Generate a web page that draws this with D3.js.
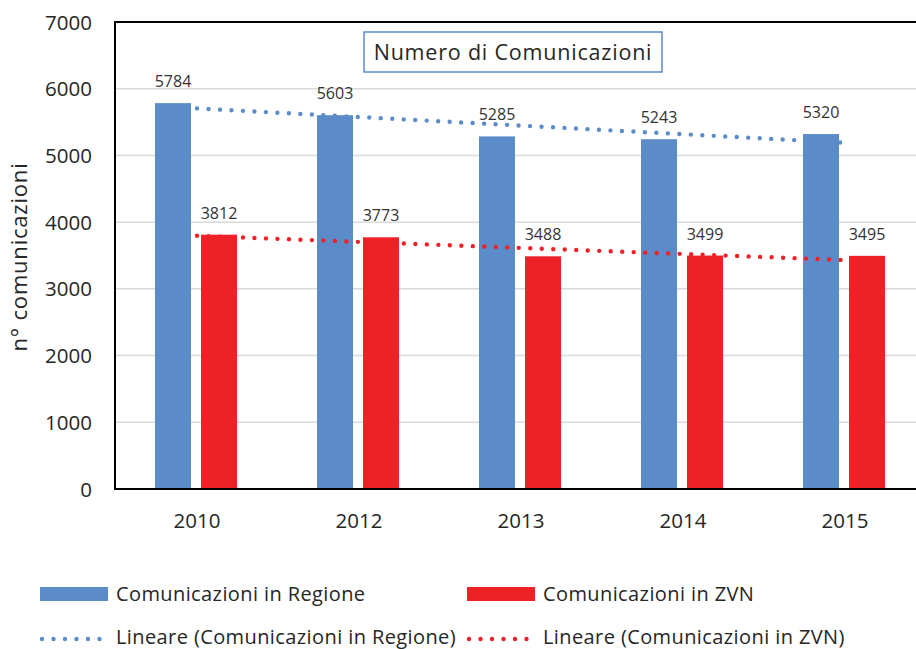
<!DOCTYPE html>
<html><head><meta charset="utf-8">
<script src="https://cdn.jsdelivr.net/npm/d3@7"></script>
<style>body{margin:0;background:#fff}svg{display:block}text{font-family:"Open Sans",sans-serif}</style>
</head><body>
<script>
const categories = ["2010","2012","2013","2014","2015"];
const regione = [5784,5603,5285,5243,5320];
const zvn = [3812,3773,3488,3499,3495];
const yTicks = [0,1000,2000,3000,4000,5000,6000,7000];
const seriesNames = ["Comunicazioni in Regione","Comunicazioni in ZVN"];
const trendNames = ["Lineare (Comunicazioni in Regione)","Lineare (Comunicazioni in ZVN)"];
const colors = ["#5b8bc8","#ee2126"];
const title = "Numero di Comunicazioni";
const yTitle = "n° comunicazioni";

const W=916,H=649;
const svg=d3.select("body").append("svg").attr("width",W).attr("height",H);
const L=115,R=926,T=22,B=489;
const x=d3.scaleBand().domain(categories).range([L+1,R]).paddingInner(0).paddingOuter(0);
const y=d3.scaleLinear().domain([0,7000]).range([B,T]);
const xs=d3.scaleBand().domain([0,1]).range([39,121]).paddingInner(10/46).paddingOuter(0);

// gridlines
svg.append("g").selectAll("line").data(yTicks.filter(d=>d>0&&d<7000)).join("line")
 .attr("x1",L).attr("x2",W).attr("y1",d=>y(d)).attr("y2",d=>y(d))
 .attr("stroke","#d9d9d9").attr("stroke-width",1.5);

// bars
const series=[regione,zvn];
series.forEach((vals,si)=>{
  svg.append("g").selectAll("rect").data(vals).join("rect")
   .attr("x",(d,i)=>x(categories[i])+xs(si)).attr("width",xs.bandwidth())
   .attr("y",d=>y(d)).attr("height",d=>B-y(d)).attr("fill",colors[si]);
  svg.append("g").selectAll("text").data(vals).join("text")
   .attr("x",(d,i)=>x(categories[i])+xs(si)+xs.bandwidth()/2)
   .attr("y",d=>y(d)-16).attr("text-anchor","middle")
   .attr("font-size",16).attr("fill","#333").text(d=>d);
});

// linear trendlines (least squares on index 1..n)
function fit(vals){
  const n=vals.length, xsv=vals.map((d,i)=>i+1);
  const mx=d3.mean(xsv), my=d3.mean(vals);
  const sxy=d3.sum(vals,(d,i)=>(xsv[i]-mx)*(d-my)), sxx=d3.sum(xsv,v=>(v-mx)**2);
  const b=sxy/sxx, a=my-b*mx;
  return [[0,a+b*1],[n-1,a+b*n]];
}
series.forEach((vals,si)=>{
  const pts=fit(vals);
  svg.append("path")
   .attr("d",d3.line().x(p=>x(categories[p[0]])+x.bandwidth()/2).y(p=>y(p[1]))(pts))
   .attr("stroke",colors[si]).attr("stroke-width",4.4).attr("stroke-linecap","round")
   .attr("stroke-dasharray","0,11.5").attr("fill","none");
});

// axes frame
svg.append("line").attr("x1",L).attr("x2",W).attr("y1",T).attr("y2",T).attr("stroke","#000").attr("stroke-width",2);
svg.append("line").attr("x1",L).attr("x2",L).attr("y1",T-1).attr("y2",B+1).attr("stroke","#000").attr("stroke-width",2);
svg.append("line").attr("x1",L).attr("x2",W).attr("y1",B).attr("y2",B).attr("stroke","#000").attr("stroke-width",2);

// y tick labels
svg.append("g").selectAll("text").data(yTicks).join("text")
 .attr("x",92).attr("y",d=>y(d)+7.5).attr("text-anchor","end")
 .attr("font-size",20.5).attr("fill","#262626").text(d=>d);

// x labels
svg.append("g").selectAll("text").data(categories).join("text")
 .attr("x",d=>x(d)+x.bandwidth()/2).attr("y",528).attr("text-anchor","middle")
 .attr("font-size",20.5).attr("fill","#262626").text(d=>d);

// y title
svg.append("text").attr("transform","translate(27,257) rotate(-90)").attr("text-anchor","middle")
 .attr("font-size",22).attr("letter-spacing",0.8).attr("fill","#262626").text(yTitle);

// title box
svg.append("rect").attr("x",364).attr("y",32).attr("width",298).attr("height",40)
 .attr("fill","#fff").attr("stroke","#5b8bc8").attr("stroke-width",1.5);
svg.append("text").attr("x",513).attr("y",59.5).attr("text-anchor","middle")
 .attr("font-size",21.5).attr("letter-spacing",0.8).attr("fill","#262626").text(title);

// legend
const lx=[40,467];
seriesNames.forEach((n,i)=>{
  svg.append("rect").attr("x",lx[i]).attr("y",587).attr("width",68).attr("height",14).attr("fill",colors[i]);
  svg.append("text").attr("x",lx[i]+76).attr("y",600.5).attr("font-size",20).attr("letter-spacing",0.4).attr("fill","#262626").text(n);
});
trendNames.forEach((n,i)=>{
  svg.append("line").attr("x1",lx[i]+2).attr("x2",lx[i]+62).attr("y1",639).attr("y2",639)
   .attr("stroke",colors[i]).attr("stroke-width",4.4).attr("stroke-linecap","round").attr("stroke-dasharray","0,11.5");
  svg.append("text").attr("x",lx[i]+76).attr("y",644).attr("font-size",20).attr("letter-spacing",0.4).attr("fill","#262626").text(n);
});
</script>
</body></html>
